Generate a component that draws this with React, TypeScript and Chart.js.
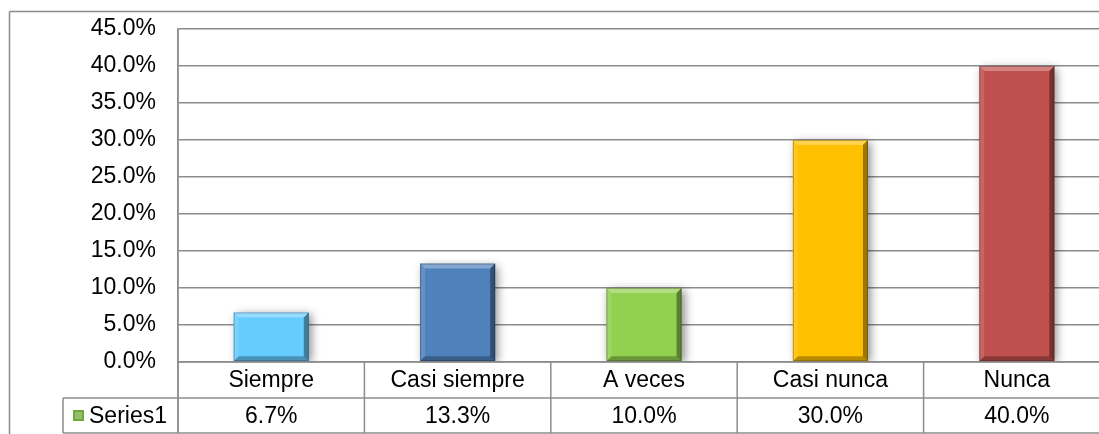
import React, { useEffect, useRef } from 'react';
import { Chart, registerables } from 'chart.js';

Chart.register(...registerables);

const categories = ['Siempre', 'Casi siempre', 'A veces', 'Casi nunca', 'Nunca'];
const values = [6.7, 13.3, 10.0, 30.0, 40.0];
const barColors = ['#66CCFF', '#4F81BD', '#92D050', '#FFC000', '#C0504D'];
const seriesName = 'Series1';
const yMin = 0;
const yMax = 45;
const yStep = 5;

const W = 1125;
const H = 450;
const FONT = '"Liberation Sans", Arial, sans-serif';
const FONT_SIZE = 23;
const LINE = '#8c8c8c';

const fmt = (v: number) => v.toFixed(1) + '%';

const decor = {
  id: 'decor',
  beforeDraw(chart: any) {
    const ctx = chart.ctx;
    ctx.save();
    ctx.fillStyle = '#fff';
    ctx.fillRect(0, 0, chart.width, chart.height);
    ctx.restore();
  },
  beforeDatasetsDraw(chart: any) {
    const ctx = chart.ctx;
    ctx.save();
    ctx.shadowColor = 'rgba(0,0,0,0.45)';
    ctx.shadowBlur = 9;
    ctx.shadowOffsetX = 3;
    ctx.shadowOffsetY = 2;
  },
  afterDatasetsDraw(chart: any) {
    const ctx = chart.ctx;
    ctx.restore();
    const meta = chart.getDatasetMeta(0);
    const b = 5;
    meta.data.forEach((bar: any) => {
      const { x, y, base, width } = bar.getProps(['x', 'y', 'base', 'width'], true);
      const l = x - width / 2, r = x + width / 2, t = Math.min(y, base), bt = Math.max(y, base);
      const poly = (pts: number[][], c: string) => {
        ctx.beginPath();
        ctx.moveTo(pts[0][0], pts[0][1]);
        for (let i = 1; i < pts.length; i++) ctx.lineTo(pts[i][0], pts[i][1]);
        ctx.closePath();
        ctx.fillStyle = c;
        ctx.fill();
      };
      ctx.save();
      poly([[l, t], [r, t], [r - b, t + b], [l + b, t + b]], 'rgba(255,255,255,0.30)');
      poly([[l, t], [l + b, t + b], [l + b, bt - b], [l, bt]], 'rgba(255,255,255,0.12)');
      poly([[r, t], [r, bt], [r - b, bt - b], [r - b, t + b]], 'rgba(0,0,0,0.38)');
      poly([[l, bt], [r, bt], [r - b, bt - b], [l + b, bt - b]], 'rgba(0,0,0,0.28)');
      ctx.strokeStyle = 'rgba(0,0,0,0.25)';
      ctx.lineWidth = 1;
      ctx.strokeRect(l + 0.5, t + 0.5, width - 1, bt - t - 1);
      ctx.restore();
    });
  },
  afterDraw(chart: any) {
    const ctx = chart.ctx;
    const ca = chart.chartArea;
    const xs = chart.scales.x;
    const n = categories.length;
    const cw = xs.getPixelForValue(1) - xs.getPixelForValue(0);
    const row1Top = ca.bottom;
    const row2Top = ca.bottom + 36;
    const tableBottom = ca.bottom + 71;
    const tableLeft = 63;
    ctx.save();
    ctx.strokeStyle = LINE;
    ctx.lineWidth = 1.5;
    const line = (x1: number, y1: number, x2: number, y2: number) => {
      ctx.beginPath();
      ctx.moveTo(x1, y1);
      ctx.lineTo(x2, y2);
      ctx.stroke();
    };
    // outer chart border
    line(9.5, 11.5, 9.5, H);
    line(9.5, 11.5, W, 11.5);
    // table
    line(ca.left, row1Top, ca.right, row1Top);
    line(tableLeft, row2Top, ca.right, row2Top);
    line(tableLeft, tableBottom, ca.right, tableBottom);
    line(tableLeft, row2Top, tableLeft, tableBottom);
    line(ca.left, ca.top, ca.left, tableBottom);
    for (let i = 0; i <= n; i++) {
      const bx = xs.getPixelForValue(i) - cw / 2;
      line(bx, row1Top, bx, tableBottom);
    }
    ctx.fillStyle = '#000';
    ctx.font = `${FONT_SIZE}px ${FONT}`;
    ctx.textAlign = 'center';
    ctx.textBaseline = 'middle';
    for (let i = 0; i < n; i++) {
      const cx = xs.getPixelForValue(i);
      ctx.fillText(categories[i], cx, (row1Top + row2Top) / 2 + 1);
      ctx.fillText(fmt(values[i]), cx, (row2Top + tableBottom) / 2 + 1);
    }
    // legend key
    const ky = (row2Top + tableBottom) / 2;
    const ks = 11;
    const kx = 73;
    const kt = ky - ks / 2;
    ctx.fillStyle = '#6FA83A';
    ctx.fillRect(kx, kt, ks, ks);
    ctx.fillStyle = 'rgba(255,255,255,0.25)';
    ctx.fillRect(kx + 2, kt + 2, ks - 4, ks - 4);
    ctx.fillStyle = '#000';
    ctx.textAlign = 'left';
    ctx.fillText(seriesName, 89, ky + 1);
    ctx.restore();
  },
};

export default function App() {
  const ref = useRef<HTMLCanvasElement>(null);
  useEffect(() => {
    const chart = new Chart(ref.current as HTMLCanvasElement, {
      type: 'bar',
      data: {
        labels: categories,
        datasets: [
          {
            label: seriesName,
            data: values,
            backgroundColor: barColors,
            borderWidth: 0,
            categoryPercentage: 1,
            barPercentage: 0.403,
          },
        ],
      },
      options: {
        responsive: false,
        animation: false,
        devicePixelRatio: 1,
        layout: { padding: { left: 0, top: 29, right: W - 1110, bottom: H - 362 } },
        plugins: { legend: { display: false }, tooltip: { enabled: false } },
        scales: {
          x: { type: 'category', display: false },
          y: {
            min: yMin,
            max: yMax,
            ticks: {
              stepSize: yStep,
              padding: 3,
              color: '#000',
              font: { family: FONT, size: FONT_SIZE },
              callback: (v: any) => fmt(Number(v)),
            },
            grid: { color: LINE, lineWidth: 1.5, drawTicks: true, tickLength: 19, tickColor: 'rgba(0,0,0,0)' },
            border: { display: true, color: LINE, width: 1.5 },
            afterFit: (scale: any) => {
              scale.width = 178;
            },
          },
        },
      },
      plugins: [decor],
    });
    return () => chart.destroy();
  }, []);
  return (
    <div style={{ position: 'fixed', left: 0, top: 0, width: 1099, height: 434, overflow: 'hidden', background: '#fff' }}>
      <canvas ref={ref} width={W} height={H} style={{ display: 'block', width: W, height: H }} />
    </div>
  );
}
